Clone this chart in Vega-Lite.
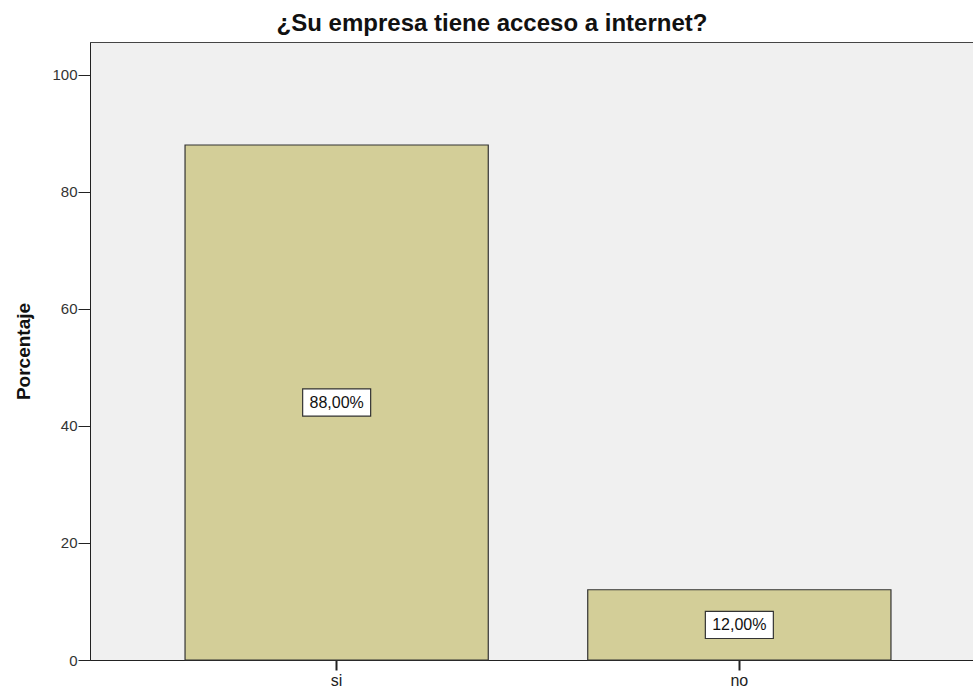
{
  "$schema": "https://vega.github.io/schema/vega-lite/v6.json",
  "autosize": {"type": "none"},
  "padding": {"left": 90, "top": 42, "right": 0, "bottom": 30},
  "width": 896,
  "height": 618,
  "background": "white",
  "config": {
    "font": "Liberation Sans",
    "view": {"fill": "#f0f0f0", "stroke": "#444444", "strokeWidth": 1}
  },
  "title": {
    "text": "¿Su empresa tiene acceso a internet?",
    "font": "Liberation Sans",
    "fontSize": 24,
    "fontWeight": "bold",
    "color": "#111111",
    "anchor": "middle",
    "dx": -46,
    "offset": 6
  },
  "data": {
    "values": [
      {"respuesta": "si", "porcentaje": 88, "etiqueta": "88,00%"},
      {"respuesta": "no", "porcentaje": 12, "etiqueta": "12,00%"}
    ]
  },
  "encoding": {
    "x": {
      "field": "respuesta",
      "type": "nominal",
      "sort": ["si", "no"],
      "scale": {"paddingInner": 0.247, "paddingOuter": 0.236},
      "axis": {
        "title": null,
        "labelAngle": 0,
        "labelFontSize": 16,
        "labelColor": "#222222",
        "tickColor": "#222222",
        "tickSize": 10,
        "tickWidth": 2,
        "domainColor": "#222222",
        "labelPadding": 2
      }
    }
  },
  "layer": [
    {
      "mark": {"type": "bar", "fill": "#d3ce98", "stroke": "#333333", "strokeWidth": 1.2},
      "encoding": {
        "y": {
          "field": "porcentaje",
          "type": "quantitative",
          "scale": {"domain": [0, 105.6], "nice": false},
          "axis": {
            "title": "Porcentaje",
            "titleFontSize": 19,
            "titleFontWeight": "bold",
            "titleColor": "#111111",
            "titlePadding": 18,
            "values": [0, 20, 40, 60, 80, 100],
            "grid": false,
            "labelFontSize": 15,
            "labelColor": "#333333",
            "tickColor": "#222222",
            "tickSize": 12,
            "domainColor": "#222222",
            "labelPadding": 1
          }
        }
      }
    },
    {
      "transform": [{"calculate": "datum.porcentaje / 2", "as": "medio"}],
      "mark": {
        "type": "point",
        "shape": "M-1,-0.4H1V0.4H-1Z",
        "filled": false,
        "fill": "white",
        "fillOpacity": 1,
        "stroke": "#333333",
        "strokeWidth": 1.2,
        "opacity": 1,
        "size": 4624
      },
      "encoding": {
        "y": {"field": "medio", "type": "quantitative"}
      }
    },
    {
      "transform": [{"calculate": "datum.porcentaje / 2", "as": "medio"}],
      "mark": {"type": "text", "fontSize": 16, "color": "#111111", "baseline": "middle"},
      "encoding": {
        "y": {"field": "medio", "type": "quantitative"},
        "text": {"field": "etiqueta"}
      }
    }
  ]
}
